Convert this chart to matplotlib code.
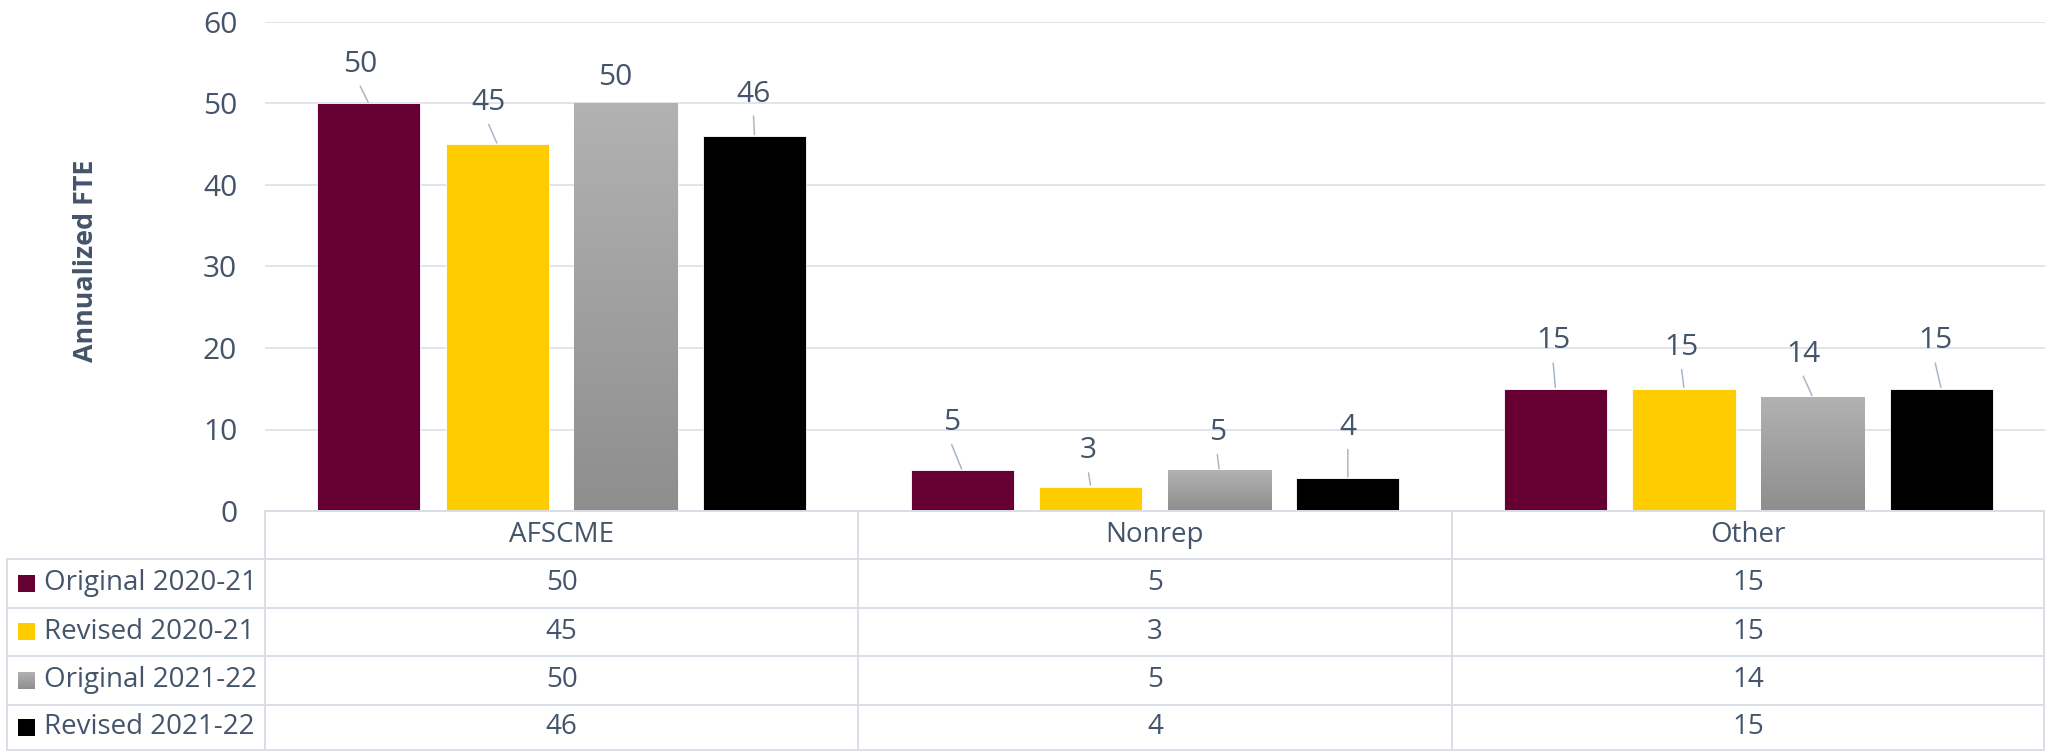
import numpy as np
import matplotlib
matplotlib.use("Agg")
import matplotlib.pyplot as plt
from matplotlib.colors import LinearSegmentedColormap
from matplotlib.transforms import blended_transform_factory

# ---------------- data ----------------
categories = ["AFSCME", "Nonrep", "Other"]
series_names = ["Original 2020-21", "Revised 2020-21", "Original 2021-22", "Revised 2021-22"]
original_2020_21 = [50, 5, 15]
revised_2020_21 = [45, 3, 15]
original_2021_22 = [50, 5, 14]
revised_2021_22 = [46, 4, 15]
series_values = [original_2020_21, revised_2020_21, original_2021_22, revised_2021_22]
y_ticks = [0, 10, 20, 30, 40, 50, 60]
y_label = "Annualized FTE"

# ---------------- style / layout ----------------
colors = ["#660033", "#FFCC00", None, "#000000"]   # None -> grey gradient
grad_cmap = LinearSegmentedColormap.from_list("g", ["#b2b2b2", "#8e8e8e"])
text_col = "#44546A"
grid_col = "#D9DEE6"
leader_col = "#A9B6C8"
FONT = "Open Sans"
plt.rcParams["font.family"] = [FONT, "DejaVu Sans"]
LABEL_FS = 21.5
TABLE_FS = 20

# label offsets (pixels, relative to bar top centre) per series, per category
label_offsets = [
    [(-8.6, 39.4), (-10.5, 47.7), (-2.3, 47.8)],
    [(-8.7, 41.7), (-2.2, 35.7), (-2.4, 41.2)],
    [(-10.6, 26.0), (-2.0, 37.7), (-9.4, 42.7)],
    [(-1.0, 42.0), (0.0, 51.0), (-6.0, 47.8)],
]

W, H = 2047, 751
fig = plt.figure(figsize=(W / 100, H / 100), dpi=100)
ax_left, ax_right = 265, 2045
ax_top, ax_bottom = 22, 511
ax = fig.add_axes([ax_left / W, 1 - ax_bottom / H, (ax_right - ax_left) / W, (ax_bottom - ax_top) / H])
ax.patch.set_alpha(0)

n = len(series_names)
step = 0.2167
width = 0.174
x = np.arange(len(categories))
bar_containers = []
for i, vals in enumerate(series_values):
    off = (i - (n - 1) / 2) * step
    fc = colors[i] if colors[i] is not None else "#a0a0a0"
    bc = ax.bar(x + off, vals, width, color=fc, edgecolor="white", linewidth=0.6, zorder=3)
    bar_containers.append(bc)
    if colors[i] is None:
        grad = np.linspace(0, 1, 256).reshape(-1, 1)
        for p in bc.patches:
            x0 = p.get_x()
            im = ax.imshow(grad, extent=[x0, x0 + p.get_width(), 0, p.get_height()],
                           origin="upper", cmap=grad_cmap, aspect="auto", zorder=3.1,
                           interpolation="bilinear")
            im.set_clip_path(p)

ax.set_xlim(-0.5, len(categories) - 0.5)
ax.set_ylim(0, 60)
ax.set_aspect("auto")
ax.set_yticks(y_ticks)
ax.set_yticklabels([str(t) for t in y_ticks], fontsize=LABEL_FS, color=text_col)
ax.tick_params(axis="y", length=0, pad=20)
ax.set_xticks([])
for s in ax.spines.values():
    s.set_visible(False)
ax.yaxis.grid(True, color=grid_col, linewidth=1.1, zorder=0)
ax.set_axisbelow(True)

# data labels with leader lines
for i, bc in enumerate(bar_containers):
    for j, p in enumerate(bc.patches):
        xc = p.get_x() + p.get_width() / 2
        v = p.get_height()
        dx, dy = label_offsets[i][j]
        ax.annotate(str(series_values[i][j]), xy=(xc, v), xytext=(dx, dy),
                    textcoords="offset pixels", ha="center", va="center",
                    fontsize=LABEL_FS, color=text_col, zorder=5)
        if dy - 22 > 8:
            ax.annotate("", xy=(xc, v), xytext=(dx, dy - 22), textcoords="offset pixels",
                        arrowprops=dict(arrowstyle="-", color=leader_col, lw=1.1,
                                        shrinkA=0, shrinkB=1), zorder=4)

# y label
fig.text(86 / W, 1 - 261 / H, y_label, rotation=90, ha="center", va="center",
         fontsize=19.4, fontweight="bold", color=text_col)

# ---------------- data table ----------------
ov = fig.add_axes([0, 0, 1, 1])
ov.set_xlim(0, W)
ov.set_ylim(H, 0)
ov.axis("off")
bt = blended_transform_factory(ax.transData, ov.transData)

row_lines = [559, 607.5, 656, 704.5, 750]
table_lw = 1.4
for yl in row_lines:
    ov.plot([7, ax_right - 1], [yl, yl], color=grid_col, lw=table_lw, solid_capstyle="butt")
ov.plot([7, 7], [row_lines[0], row_lines[-1]], color=grid_col, lw=table_lw)
ov.plot([ax_left, ax_left], [ax_bottom, row_lines[-1]], color=grid_col, lw=table_lw)
ov.plot([ax_right - 1, ax_right - 1], [ax_bottom, row_lines[-1]], color=grid_col, lw=table_lw)
for b in np.arange(len(categories) - 1) + 0.5:
    ov.plot([b, b], [ax_bottom, row_lines[-1]], color=grid_col, lw=table_lw, transform=bt)
ov.plot([ax_left, ax_right - 1], [ax_bottom, ax_bottom], color=grid_col, lw=table_lw)

for j, c in enumerate(categories):
    ov.text(j, (ax_bottom + row_lines[0]) / 2, c, transform=bt, ha="center", va="center",
            fontsize=TABLE_FS, color=text_col)
for i, name in enumerate(series_names):
    yc = (row_lines[i] + row_lines[i + 1]) / 2
    k0, k1 = 18, 35
    if colors[i] is None:
        grad = np.linspace(0, 1, 64).reshape(-1, 1)
        ov.imshow(grad, extent=[k0, k1, yc + 8.5, yc - 8.5], origin="upper", cmap=grad_cmap,
                  aspect="auto", interpolation="bilinear")
    else:
        ov.add_patch(plt.Rectangle((k0, yc - 8.5), k1 - k0, 17, color=colors[i], lw=0))
    ov.text(44, yc, name, ha="left", va="center", fontsize=TABLE_FS, color=text_col)
    for j in range(len(categories)):
        ov.text(j, yc, str(series_values[i][j]), transform=bt, ha="center", va="center",
                fontsize=TABLE_FS, color=text_col)
ov.set_xlim(0, W)
ov.set_ylim(H, 0)
ov.set_aspect("auto")

fig.savefig("out.png", dpi=100)
